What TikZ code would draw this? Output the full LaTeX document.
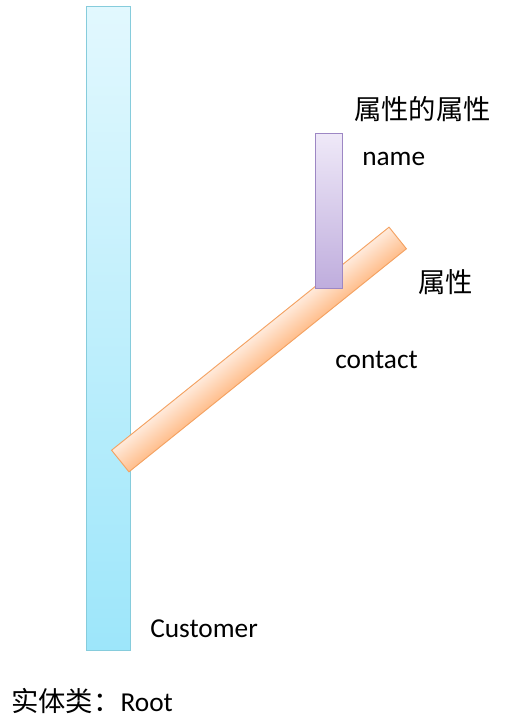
\documentclass[tikz,border=0pt]{standalone}
\usepackage{fontspec}
\setmainfont{Carlito}
\newfontfamily\cjk{Noto Sans CJK SC}
\usetikzlibrary{positioning}

\definecolor{entityTop}{HTML}{E2F8FE}
\definecolor{entityBot}{HTML}{9DE6FA}
\definecolor{entityLine}{HTML}{86CCDC}
\definecolor{propTop}{HTML}{FFEADB}
\definecolor{propBot}{HTML}{FFBE8C}
\definecolor{propLine}{HTML}{F4A262}
\definecolor{subTop}{HTML}{EFE9F8}
\definecolor{subBot}{HTML}{BFADDD}
\definecolor{subLine}{HTML}{9D87C4}

\tikzset{
  bar/.style={draw, line width=0.7pt, inner sep=0pt, rectangle},
  entitybar/.style={bar, draw=entityLine, top color=entityTop, bottom color=entityBot},
  propbar/.style={bar, draw=propLine, top color=propTop, bottom color=propBot},
  subbar/.style={bar, draw=subLine, top color=subTop, bottom color=subBot},
  lbl/.style={font=\fontsize{20.5}{24}\selectfont, inner sep=0pt, anchor=base west}
}

\begin{document}
\begin{tikzpicture}[x=0.75pt,y=-0.75pt]
\useasboundingbox (0,0) rectangle (517,721);
\node (customer) [entitybar, minimum width=33pt, minimum height=483pt] at (108,328) {};
\begin{scope}[transform canvas={shift={(259,349.5)}, rotate=38.8}]
  \node (contact) [propbar, minimum width=267pt, minimum height=20.8pt] at (0,0) {};
\end{scope}
\node (name) [subbar, minimum width=20.25pt, minimum height=116.25pt] at (328.5,210.5) {};

\node (customerLbl) [lbl] at (150,637) {Customer};
\node (rootLbl) [lbl] at (11,711) {{\cjk 实体类：}Root};
\node (contactLbl) [lbl] at (335,368) {contact};
\node (propLbl) [lbl] at (418,292) {\cjk 属性};
\node (nameLbl) [lbl] at (362,165) {name};
\node (subLbl) [lbl] at (354,119) {\cjk 属性的属性};
\end{tikzpicture}
\end{document}
